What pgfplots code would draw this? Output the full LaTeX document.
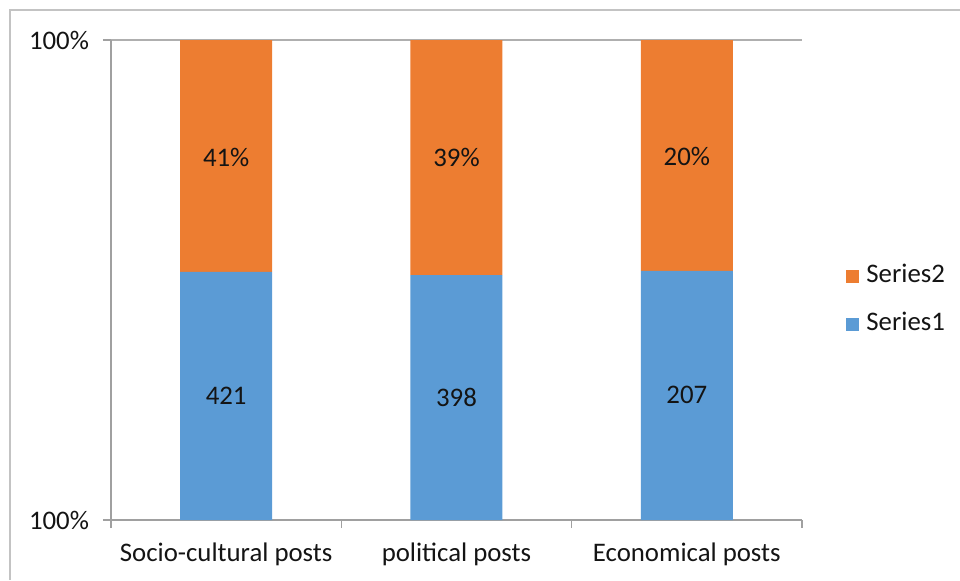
\documentclass[border=0pt]{standalone}
\usepackage{fontspec}
\setmainfont{Carlito}
\usepackage{pgfplots}
\pgfplotsset{compat=1.18}
\usepackage{pgfplotstable}
\definecolor{sOrange}{RGB}{237,125,49}
\definecolor{sBlue}{RGB}{91,155,213}
\definecolor{axcol}{RGB}{160,160,160}
\definecolor{gridcol}{RGB}{175,175,175}
\definecolor{bordcol}{RGB}{195,195,195}
\definecolor{txt}{RGB}{20,20,20}
\newcommand{\cfont}{\fontsize{13.4}{15}\selectfont}
\pgfplotstableread{
x s1 s2
0 51.7 48.3
1 51.0 49.0
2 51.9 48.1
}\shares
\pgfplotstableread{
x y label
0 25.8 421
1 25.5 398
2 26.0 207
0 75.6 41\%
1 75.5 39\%
2 75.8 20\%
}\labels
\begin{document}
\begin{tikzpicture}
\path[use as bounding box] (-55.5pt,-30pt) rectangle (424.5pt,260pt);
\draw[bordcol, line width=1pt] (-50.5pt,-30pt) -- (-50.5pt,255pt) -- (424.5pt,255pt);
\begin{axis}[
  at={(0pt,0pt)}, anchor=south west,
  scale only axis, width=345.5pt, height=240pt,
  xmin=-0.5, xmax=2.5, ymin=0, ymax=100,
  ybar stacked, bar width=46pt,
  axis lines*=left,
  axis line style={axcol, line width=0.75pt},
  xtick={0,1,2},
  xticklabels={Socio-cultural posts, political posts, Economical posts},
  minor xtick={-0.5,0.5,1.5,2.5},
  major x tick style={draw=none},
  minor x tick style={axcol, line width=0.75pt},
  ytick={0,100}, yticklabels={100\%,100\%},
  y tick style={axcol, line width=0.75pt},
  tick align=outside, major tick length=4pt, minor tick length=4pt,
  ymajorgrids, major grid style={gridcol, line width=0.75pt},
  every tick label/.append style={font=\cfont, text=txt},
  xticklabel style={yshift=-4pt},
  yticklabel style={xshift=-3.5pt},
  /pgf/number format/assume math mode=true,
  reverse legend,
  legend style={draw=none, fill=none, at={(1.055,0.4575)}, anchor=west,
    font=\cfont, text=txt, row sep=8pt,
    /tikz/every odd column/.append style={column sep=1.5pt},
    nodes={text height=9pt, text depth=3pt, inner sep=2pt}},
  legend cell align=left,
]
\addplot[fill=sBlue, draw=none, legend image code/.code={\fill[sBlue] (0pt,-3.25pt) rectangle (6.5pt,3.25pt);}] table[x=x, y=s1] {\shares};
\addlegendentry{Series1}
\addplot[fill=sOrange, draw=none, legend image code/.code={\fill[sOrange] (0pt,-3.25pt) rectangle (6.5pt,3.25pt);}] table[x=x, y=s2] {\shares};
\addlegendentry{Series2}
\end{axis}
\begin{axis}[
  at={(0pt,0pt)}, anchor=south west,
  scale only axis, width=345.5pt, height=240pt,
  xmin=-0.5, xmax=2.5, ymin=0, ymax=100,
  hide axis,
]
\addplot[draw=none, mark=none, nodes near coords, point meta=explicit symbolic,
  every node near coord/.append style={anchor=center, font=\cfont, text=txt}]
  table[x=x, y=y, meta=label] {\labels};
\end{axis}
\end{tikzpicture}
\end{document}
